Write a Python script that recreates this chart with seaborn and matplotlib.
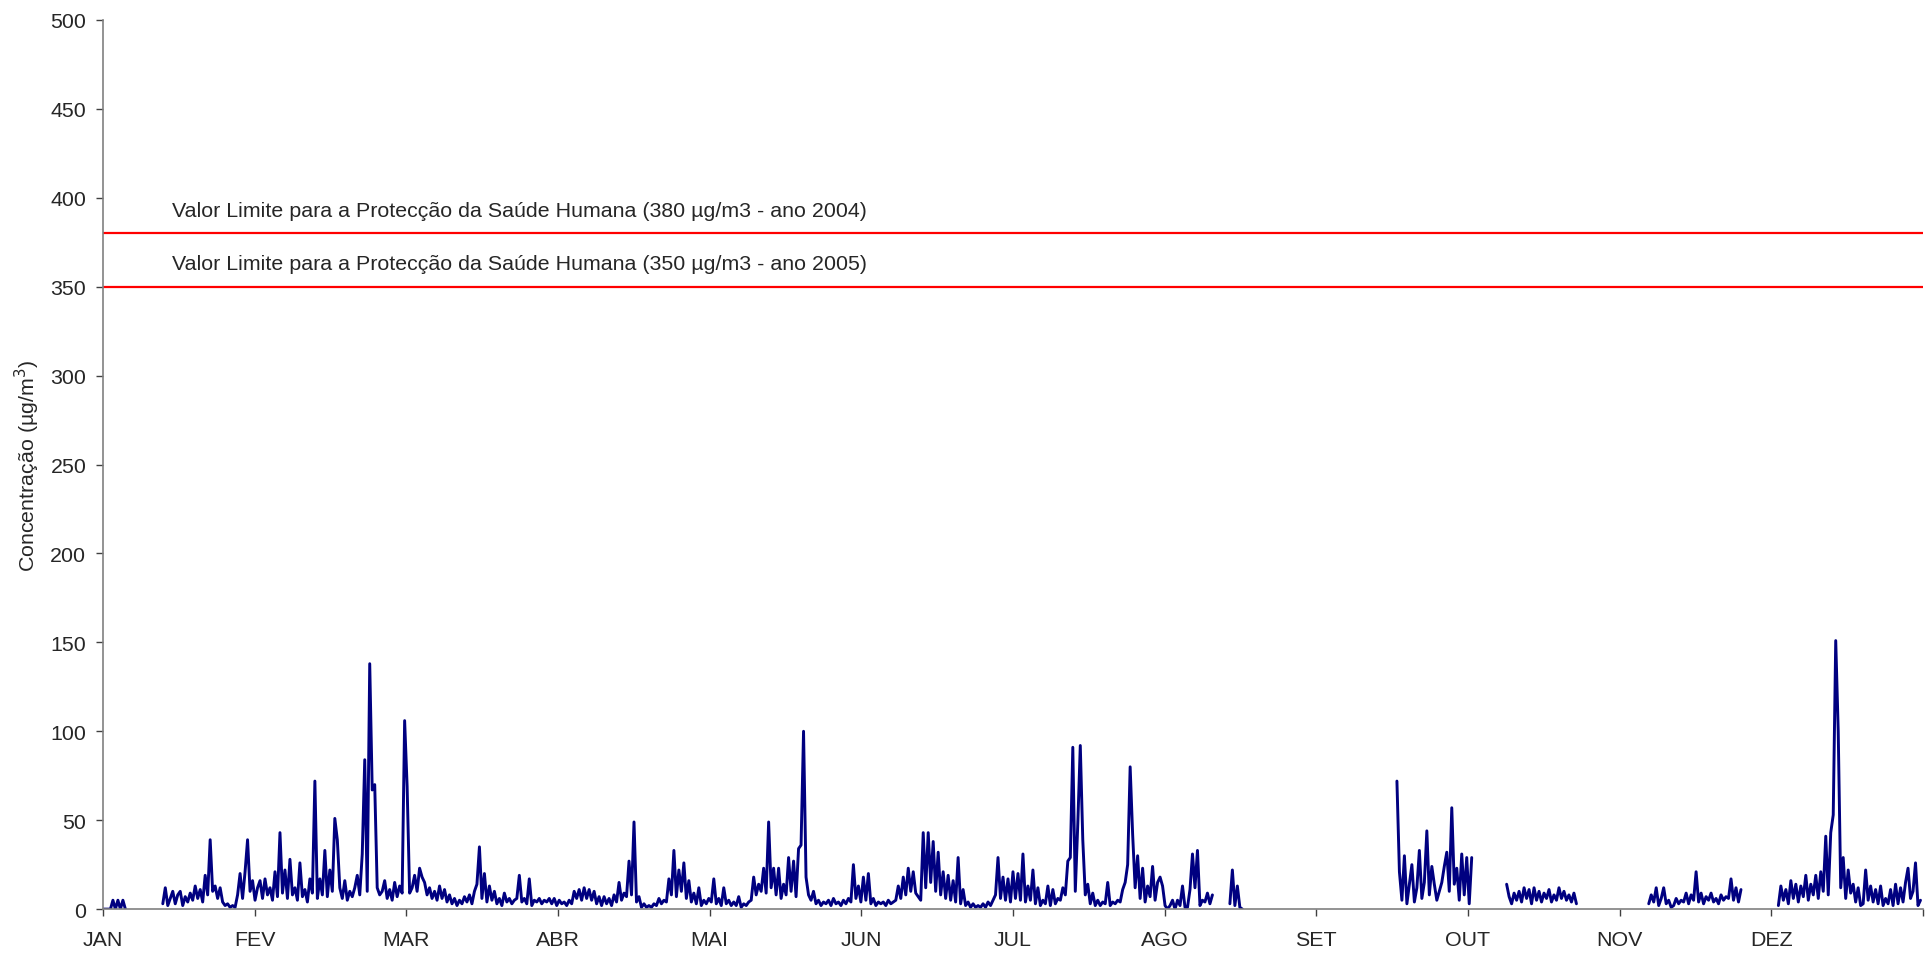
import numpy as np
import pandas as pd
import matplotlib.pyplot as plt
import seaborn as sns

n = np.nan

# concentração, um valor a cada 12 horas (nan = sem dados)
jan = [0, 0, 0, 0, 5, 0, 5, 0, 5, 0] + [n] * 14 + [
    3, 12, 2, 6, 10, 3, 8, 10, 2, 7, 4, 9, 5, 13, 6, 11, 4, 19, 8, 39,
    10, 13, 6, 12, 4, 2, 3, 1, 2, 1, 8, 20, 6, 21, 39, 10, 16, 5]
fev = [12, 16, 6, 17, 8, 12, 5, 21, 7, 43, 9, 22, 6, 28, 8, 12, 5, 26, 7, 11,
       4, 17, 9, 72, 6, 17, 8, 33, 7, 22, 10, 51, 39, 12, 6, 16, 5, 10, 7, 12,
       19, 8, 31, 84, 10, 138, 67, 70, 12, 8, 10, 16, 6, 11, 5, 15]
mar = [7, 13, 9, 106, 69, 9, 12, 19, 10, 23, 18, 15, 8, 12, 6, 10, 5, 13, 6, 11,
       4, 8, 3, 6, 2, 5, 3, 7, 4, 8, 3, 10, 14, 35, 6, 20, 4, 13, 5, 10,
       3, 6, 2, 9, 4, 6, 3, 5, 6, 19, 4, 6, 3, 17, 2, 5, 4, 6, 3, 5, 4, 6]
abr = [3, 6, 2, 5, 3, 4, 2, 5, 3, 10, 6, 11, 5, 12, 6, 11, 5, 10, 3, 7,
       2, 7, 3, 6, 2, 8, 4, 15, 5, 9, 7, 27, 8, 49, 4, 7, 1, 3, 1, 2,
       1, 3, 2, 6, 3, 5, 4, 17, 8, 33, 7, 22, 10, 26, 6, 16, 4, 9, 3, 12]
mai = [2, 5, 3, 6, 4, 17, 3, 6, 2, 12, 3, 5, 2, 4, 2, 7, 1, 3, 2, 4,
       5, 18, 8, 14, 10, 23, 9, 49, 12, 23, 8, 23, 6, 14, 8, 29, 10, 27, 7, 34,
       36, 100, 18, 8, 5, 10, 3, 5, 2, 4, 3, 5, 2, 6, 3, 4, 2, 5, 3, 6, 4, 25]
jun = [6, 13, 4, 18, 5, 20, 3, 6, 2, 4, 3, 4, 2, 5, 3, 4, 5, 13, 6, 18,
       8, 23, 10, 21, 9, 7, 5, 43, 12, 43, 15, 38, 10, 32, 8, 21, 6, 19, 5, 16,
       4, 29, 3, 11, 2, 4, 1, 3, 1, 2, 1, 3, 1, 4, 2, 5, 8, 29, 6, 18]
jul = [5, 17, 4, 21, 6, 20, 5, 31, 4, 13, 5, 22, 3, 12, 2, 5, 3, 13, 2, 11,
       3, 6, 5, 12, 8, 27, 29, 91, 10, 48, 92, 39, 8, 14, 3, 9, 2, 5, 2, 4,
       3, 15, 2, 4, 3, 5, 4, 11, 15, 25, 80, 42, 12, 30, 6, 23, 4, 13, 7, 24, 5, 15]
ago = [18, 13, 2, 0, 2, 5, 0, 5, 2, 13, 1, 1, 11, 31, 12, 33, 2, 5, 4, 9,
       3, 8] + [n] * 6 + [3, 22, 2, 13, 1, 0] + [n] * 28
set_ = [n] * 33 + [72, 21, 5, 30, 3, 14, 25, 4, 12, 33, 6, 15, 44, 8, 24, 14,
                   5, 10, 15, 24, 32, 10, 57, 14, 23, 5, 31]
out = [8, 29, 3, 29] + [n] * 13 + [
    14, 7, 3, 9, 5, 10, 4, 12, 6, 11, 3, 12, 5, 10, 4, 9, 6, 11, 4, 8,
    5, 12, 6, 10, 5, 8, 4, 9, 3] + [n] * 16
nov = [n] * 12 + [3, 8, 4, 12, 2, 6, 12, 3, 5, 1, 2, 6, 3, 5, 4, 9, 3, 8, 5, 21,
                  4, 9, 3, 7, 5, 9, 4, 6, 3, 8, 5, 7, 6, 17, 5, 12, 4, 11] + [n] * 10
dez = [n] * 4 + [2, 13, 5, 11, 3, 16, 6, 14, 4, 13, 7, 19, 5, 14, 8, 19, 6, 21, 10, 41,
                 8, 43, 53, 151, 100, 12, 29, 6, 22, 9, 14, 4, 12, 2, 3, 22, 5, 13, 4, 11,
                 3, 13, 2, 6, 3, 11, 2, 14, 3, 12, 4, 15, 23, 6, 10, 26, 2, 5]

meses = ['JAN', 'FEV', 'MAR', 'ABR', 'MAI', 'JUN',
         'JUL', 'AGO', 'SET', 'OUT', 'NOV', 'DEZ']
limites = [380, 350]
textos = ['Valor Limite para a Protecção da Saúde Humana (380 µg/m3 - ano 2004)',
          'Valor Limite para a Protecção da Saúde Humana (350 µg/m3 - ano 2005)']

conc = np.array(jan + fev + mar + abr + mai + jun + jul + ago + set_ + out + nov + dez,
                dtype=float)
dia = np.arange(len(conc)) * 0.5
seg = np.cumsum(np.isnan(conc))
df = pd.DataFrame({'dia': dia, 'conc': conc, 'seg': seg}).dropna()

sns.set_style('white')
plt.rcParams['font.family'] = ['Liberation Sans', 'DejaVu Sans']
fs = 15.4

fig = plt.figure(figsize=(19.28, 9.54), dpi=100)
ax = fig.add_axes([0.0534, 0.046, 0.9440, 0.932])

sns.lineplot(data=df, x='dia', y='conc', units='seg', estimator=None,
             color='#000080', linewidth=2.1, ax=ax, legend=False)

for lim, txt in zip(limites, textos):
    ax.axhline(lim, color='#ff0000', linewidth=1.6)
    ax.text(13.8, lim + 13, txt, fontsize=fs, va='center', ha='left')

ax.set_xlim(0, 365)
ax.set_ylim(0, 500)
ax.set_yticks(range(0, 501, 50))
ax.set_xticks([365 / 12 * k for k in range(13)])
ax.set_xticklabels(meses + [''])
ax.tick_params(axis='both', labelsize=fs, direction='out', length=5,
               width=1, color='#404040', left=True, bottom=True)
ax.tick_params(axis='y', pad=7)
ax.tick_params(axis='x', pad=10)
ax.set_xlabel('')
ax.set_ylabel('Concentração (µg/m$^3$)', fontsize=fs, labelpad=6)

for s in ['top', 'right']:
    ax.spines[s].set_visible(False)
for s in ['left', 'bottom']:
    ax.spines[s].set_color('#808080')
    ax.spines[s].set_linewidth(1.2)

fig.savefig('out.png', dpi=100)
